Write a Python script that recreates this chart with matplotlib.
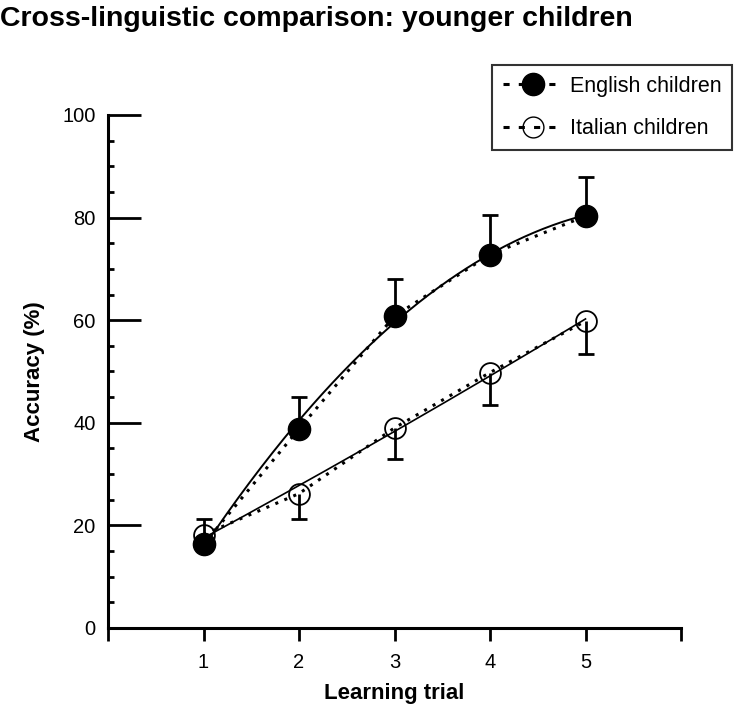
import numpy as np
import matplotlib
matplotlib.use("Agg")
import matplotlib.pyplot as plt
from matplotlib.lines import Line2D
from matplotlib.ticker import MultipleLocator

plt.rcParams['font.family'] = ['Liberation Sans', 'DejaVu Sans']

trials = [1, 2, 3, 4, 5]
english = [16.3, 38.8, 60.8, 72.8, 80.3]
english_err = [5.0, 6.2, 7.2, 7.8, 7.6]
italian = [18.2, 26.2, 39.0, 49.8, 59.8]
italian_err = [0.0, 5.0, 6.0, 6.4, 6.4]
tick_labels = ['', '1', '2', '3', '4', '5', '']

fig = plt.figure(figsize=(7.5, 7.12), dpi=100)
ax = fig.add_axes([0.144, 0.118, 0.764, 0.7205])

x = np.array(trials)
xs = np.linspace(1, 5, 200)

# one-sided error bars: English up, Italian down
e_top = np.array(english) + np.array(english_err)
i_bot = np.array(italian) - np.array(italian_err)
ax.vlines(x, english, e_top, color='black', lw=2, zorder=2)
ax.plot(x, e_top, '_', color='black', ms=12, mew=2, zorder=2)
ax.vlines(x[1:], i_bot[1:], italian[1:], color='black', lw=2, zorder=2)
ax.plot(x[1:], i_bot[1:], '_', color='black', ms=12, mew=2, zorder=2)

# smooth fitted curves
pe = np.polyfit(x, english, 2)
pi = np.polyfit(x, italian, 2)
ax.plot(xs, np.polyval(pe, xs), color='black', lw=1.4, zorder=3)
ax.plot(xs, np.polyval(pi, xs), color='black', lw=1.2, zorder=3)

# dotted lines through the points
ax.plot(x, english, color='black', lw=2.2, dashes=(1, 2.2), zorder=3)
ax.plot(x, italian, color='black', lw=2.2, dashes=(1, 2.2), zorder=3)

ax.plot(x, english, 'o', ms=16, mfc='black', mec='black', zorder=4)
ax.plot(x, italian, 'o', ms=15, mfc='none', mec='black', mew=1.3, zorder=4)

ax.set_xlim(0, 6)
ax.set_ylim(0, 100)
ax.set_xticks(range(7))
ax.set_xticklabels(tick_labels, fontsize=14.5)
ax.set_yticks([0, 20, 40, 60, 80, 100])
ax.yaxis.set_minor_locator(MultipleLocator(5))
ax.tick_params(axis='y', which='major', direction='in', length=24, width=2, labelsize=14.5, pad=9)
ax.tick_params(axis='y', which='minor', direction='in', length=4.5, width=2)
ax.tick_params(axis='x', which='major', direction='out', length=9, width=2, labelsize=14.5, pad=9)

for s in ['top', 'right']:
    ax.spines[s].set_visible(False)
for s in ['left', 'bottom']:
    ax.spines[s].set_linewidth(2.2)

ax.set_xlabel('Learning trial', fontsize=16, fontweight='bold', labelpad=8)
ax.set_ylabel('Accuracy (%)', fontsize=16, fontweight='bold', labelpad=12)

fig.text(0.0, 0.973, 'Cross-linguistic comparison: younger children', fontsize=20.5,
         fontweight='bold', ha='left', va='center')

handles = [
    Line2D([], [], color='black', lw=2.2, dashes=(2, 3), marker='o', ms=16, mfc='black', mec='black'),
    Line2D([], [], color='black', lw=2.2, dashes=(2, 3), marker='o', ms=15, mfc='none', mec='black'),
]
leg = fig.legend(handles, ['English children', 'Italian children'], loc='upper right',
                 bbox_to_anchor=(0.976, 0.909), fontsize=15.5, frameon=True, fancybox=False,
                 handlelength=2.8, handletextpad=0.3, labelspacing=1.0, borderpad=0.5,
                 borderaxespad=0)
leg.get_frame().set_edgecolor('black')
leg.get_frame().set_linewidth(1.5)

fig.savefig('out.png', dpi=100)
